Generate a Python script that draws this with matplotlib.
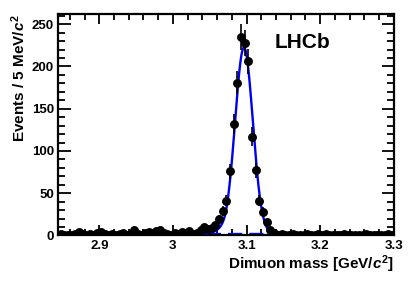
import numpy as np
import matplotlib
matplotlib.use("Agg")
import matplotlib.pyplot as plt
from matplotlib.ticker import MultipleLocator

plt.rcParams['font.family'] = ['Liberation Sans', 'DejaVu Sans']
plt.rcParams['font.weight'] = 'bold'
plt.rcParams['mathtext.fontset'] = 'custom'
plt.rcParams['mathtext.it'] = 'Liberation Sans:italic:bold'
plt.rcParams['mathtext.rm'] = 'Liberation Sans:bold'

# dimuon mass bin centres (GeV/c^2), 5 MeV bins
mass = np.round(np.arange(2.8475, 3.3, 0.005), 4)
# events per bin
events = [
    2, 1, 1, 0, 2, 4, 2, 1, 2, 1,
    3, 4, 2, 1, 2, 1, 2, 3, 1, 2,
    6, 2, 1, 3, 4, 3, 5, 7, 3, 2,
    1, 3, 2, 4, 3, 5, 2, 3, 6, 10,
    8, 9, 12, 20, 29, 41, 76, 132, 181, 235,
    228, 206, 117, 77, 41, 28, 16, 6, 3, 1,
    2, 1, 1, 2, 1, 0, 1, 2, 1, 1,
    2, 1, 2, 1, 1, 0, 1, 2, 1, 1,
    1, 0, 1, 2, 1, 1, 1, 0, 1, 2,
    1,
]
events = np.array(events[:len(mass)], dtype=float)
errors = np.sqrt(events)

# fit parameters (Crystal Ball + flat background)
fit_mean = 3.0965
fit_sigma = 0.0120
fit_peak = 221.0
fit_alpha = 2.0
fit_n = 5.0
fit_bkg = 1.5


def crystal_ball(x):
    z = (x - fit_mean) / fit_sigma
    a = (fit_n / fit_alpha) ** fit_n * np.exp(-fit_alpha ** 2 / 2)
    b = fit_n / fit_alpha - fit_alpha
    out = np.exp(-z ** 2 / 2)
    low = z < -fit_alpha
    out[low] = a / (b - z[low]) ** fit_n
    return fit_peak * out


xfit = np.linspace(2.844, 3.3, 800)

fig = plt.figure(figsize=(4.15, 2.81), dpi=100)
ax = fig.add_axes([0.1398, 0.162, 0.8092, 0.788])

ax.plot(xfit, np.full_like(xfit, fit_bkg), color='#0000ee', lw=1.7, ls=(0, (6, 3)), zorder=2)
ax.plot(xfit, crystal_ball(xfit) + fit_bkg, color='#0000ee', lw=1.7, zorder=3)
ax.errorbar(mass, events, yerr=errors, fmt='o', color='black', ms=5.4,
            elinewidth=1.2, capsize=0, zorder=4)

ax.set_xlim(2.844, 3.3)
ax.set_ylim(0, 262)
ax.xaxis.set_major_locator(MultipleLocator(0.1))
ax.xaxis.set_minor_locator(MultipleLocator(0.02))
ax.yaxis.set_major_locator(MultipleLocator(50))
ax.yaxis.set_minor_locator(MultipleLocator(10))
ax.set_xticks([2.9, 3.0, 3.1, 3.2, 3.3])
ax.set_xticklabels(['2.9', '3', '3.1', '3.2', '3.3'])

ax.tick_params(which='both', direction='in', top=True, right=True,
               labelsize=9.5, width=1.3, pad=3)
ax.tick_params(axis='y', which='major', length=9)
ax.tick_params(axis='y', which='minor', length=5)
ax.tick_params(axis='x', which='major', length=7)
ax.tick_params(axis='x', which='minor', length=4)
for sp in ax.spines.values():
    sp.set_linewidth(1.6)

ax.set_xlabel('Dimuon mass [GeV/$c^2$]', fontsize=11, fontweight='bold', loc='right', labelpad=1)
ax.set_ylabel('Events / 5 MeV/$c^2$', fontsize=11, fontweight='bold', loc='top', labelpad=3)

ax.text(0.645, 0.87, 'LHCb', transform=ax.transAxes, fontsize=15,
        fontweight='bold', va='center', ha='left')

plt.savefig('out.png', dpi=100)
